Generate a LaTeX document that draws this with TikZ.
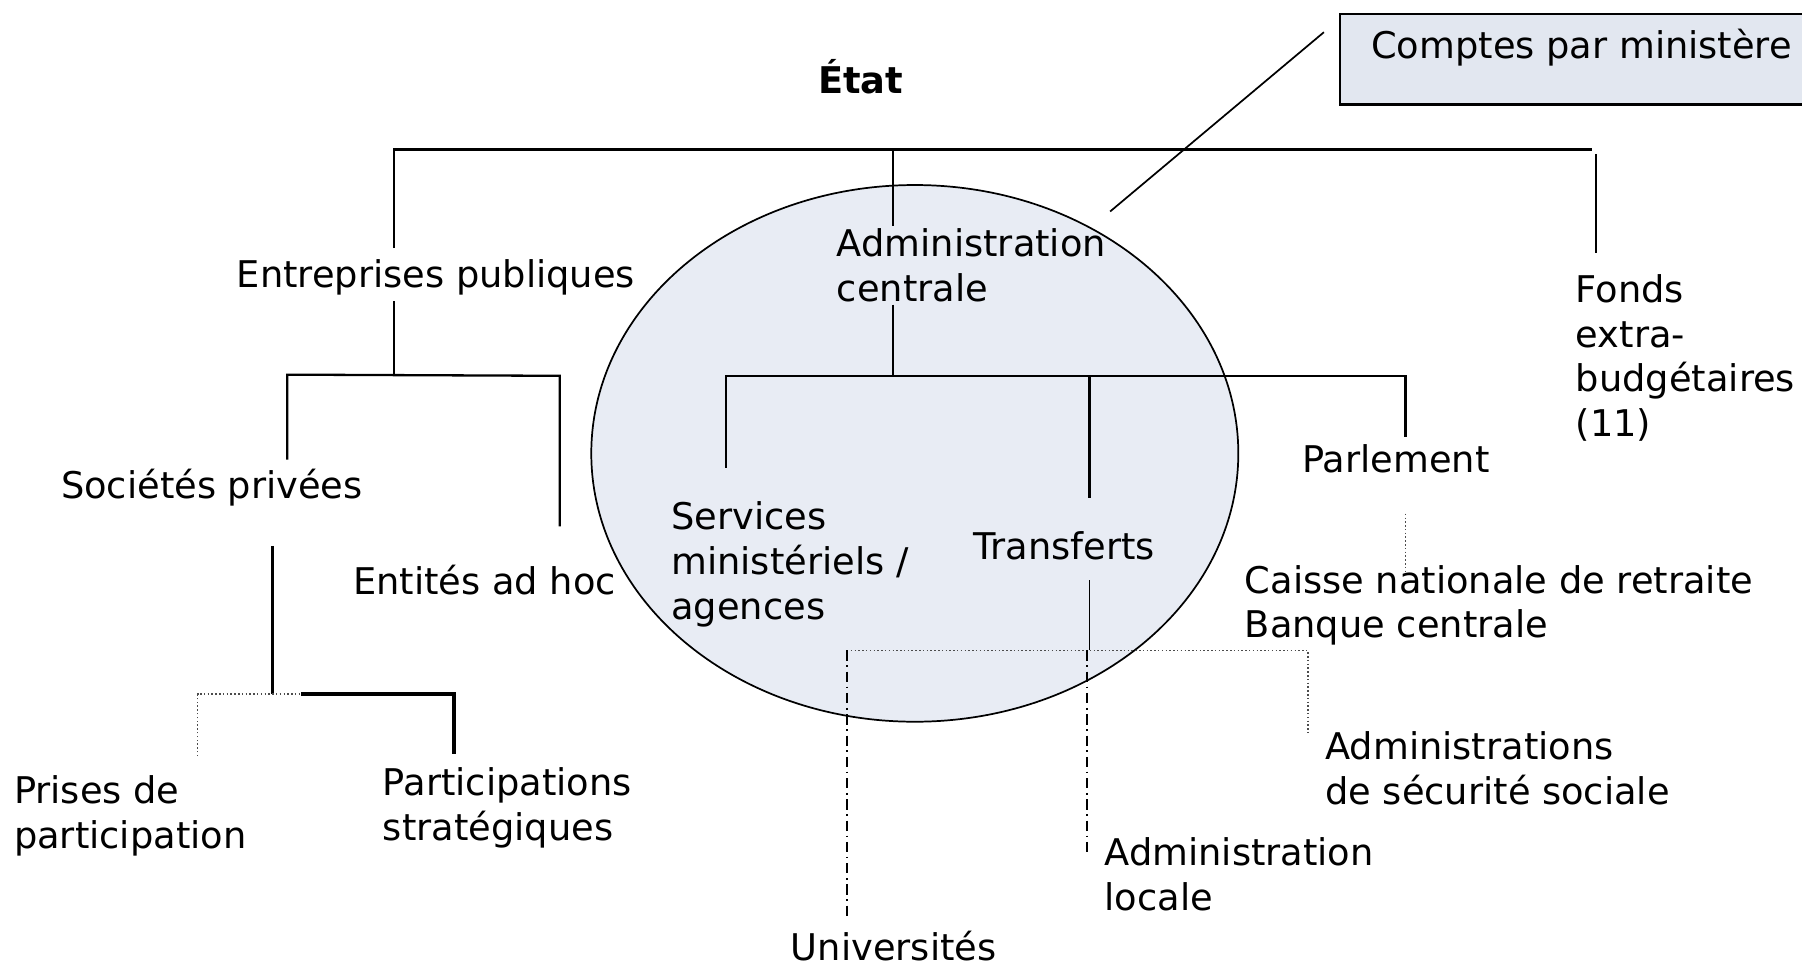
\documentclass[tikz,border=0pt]{standalone}
\usepackage{fontspec}
\setmainfont{DejaVu Sans}
\usetikzlibrary{shapes.geometric}
\definecolor{ellfill}{RGB}{232,236,244}
\definecolor{boxfill}{RGB}{226,231,240}
\tikzset{
 lbl/.style={anchor=base west, inner sep=0pt, align=left, font=\fontsize{32}{39}\selectfont},
 solidln/.style={line width=2pt},
 thinln/.style={line width=1.5pt},
 thickln/.style={line width=3pt},
 dotln/.style={line width=1.3pt, dotted, black!70},
 dashdotln/.style={line width=1.3pt, dash pattern=on 9pt off 4pt on 1.5pt off 4pt},
}
\begin{document}
\begin{tikzpicture}[x=1pt,y=-1pt]
\useasboundingbox (0,0) rectangle (1568,840.6);
% ellipse
\node[draw, ellipse, fill=ellfill, line width=1.5pt, minimum width=563pt, minimum height=467pt, inner sep=0pt] (cercle) at (796,394.5) {};
% box
\fill[boxfill] (1166,12) rectangle (1580,91);
\draw[line width=2pt] (1580,12) -- (1166,12) -- (1166,91) -- (1580,91);
\node[lbl] (comptes) at (1193,51) {Comptes par ministère};
% labels (base = last line)
\node[anchor=base, inner sep=0pt, font=\fontsize{32}{39}\selectfont\bfseries] (etat) at (749,81) {État};
\node[lbl] (entreprises) at (206,250) {Entreprises publiques};
\node[lbl] (admin) at (728,262) {Administration\\centrale};
\node[lbl] (fonds) at (1371,380) {Fonds\\extra-\\budgétaires\\(11)};
\node[lbl] (services) at (584,539) {Services\\ministériels /\\agences};
\node[lbl] (transferts) at (847,487) {Transferts};
\node[lbl] (parlement) at (1133,411) {Parlement};
\node[lbl] (caisse) at (1083,555) {Caisse nationale de retraite\\Banque centrale};
\node[lbl] (societes) at (53,434) {Sociétés privées};
\node[lbl] (entites) at (307,517) {Entités ad hoc};
\node[lbl] (prises) at (12,738) {Prises de\\participation};
\node[lbl] (strat) at (333,731) {Participations\\stratégiques};
\node[lbl] (secsoc) at (1153,700) {Administrations\\de sécurité sociale};
\node[lbl] (locale) at (961,792) {Administration\\locale};
\node[lbl] (univ) at (688,836) {Universités};
% coordinates
\coordinate (cA) at (1152,28);
\coordinate (cB) at (966,184);
% connectors
\draw[thinln] (cA) -- (cB);
\draw[solidln] (343,216) -- (343,130) -- (1385,130);
\draw[solidln] (777,130) -- (777,197);
\draw[solidln] (1389,134) -- (1389,220);
\draw[solidln] (343,262) -- (343,326);
\draw[solidln] (250,400) -- (250,326) -- (487,327) -- (487,458);
\draw[solidln] (777,265) -- (777,327);
\draw[solidln] (632,407) -- (632,327) -- (1223,327) -- (1223,380);
\draw[solidln] (948,327) -- (948,433);
\draw[thinln] (948,505) -- (948,566);
\draw[dotln] (737,566) -- (1138,566) -- (1138,640);
\draw[dashdotln] (737,566) -- (737,800);
\draw[dashdotln] (946,566) -- (946,745);
\draw[dotln] (1223,447) -- (1223,497);
\draw[thickln] (237,475) -- (237,604);
\draw[dotln] (172,658) -- (172,604) -- (262,604);
\draw[thickln] (262,604) -- (395,604) -- (395,656);
\end{tikzpicture}
\end{document}
